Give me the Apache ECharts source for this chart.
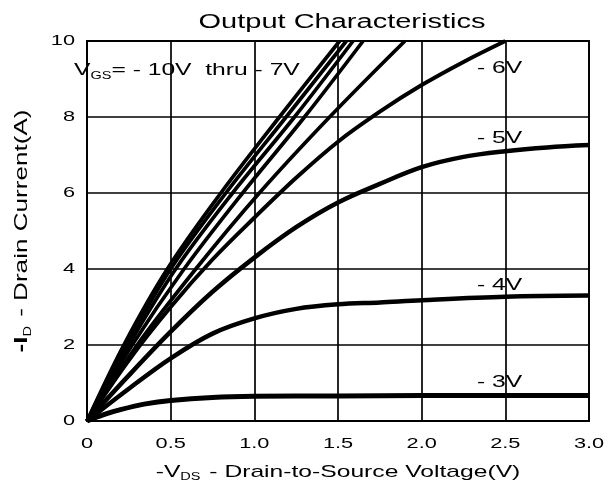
<!DOCTYPE html>
<html>
<head>
<meta charset="utf-8">
<script src="https://cdn.jsdelivr.net/npm/echarts@6/dist/echarts.min.js"></script>
<style>
html,body{margin:0;padding:0;background:#fff;}
#chart{width:608px;height:482px;}
</style>
</head>
<body>
<div id="chart"></div>
<script>
// Axis ticks
const xTicks = [0, 0.5, 1.0, 1.5, 2.0, 2.5, 3.0];
const yTicks = [0, 2, 4, 6, 8, 10];

// Curves: [ -VDS (V), -ID (A) ]
const vgsM10 = [[0,0],[0.22,2],[0.48,4],[0.80,6],[1.15,8],[1.51,10]];
const vgsM9  = [[0,0],[0.235,2],[0.50,4],[0.83,6],[1.19,8],[1.55,10]];
const vgsM8  = [[0,0],[0.25,2],[0.53,4],[0.87,6],[1.24,8],[1.59,10]];
const vgsM7  = [[0,0],[0.27,2],[0.58,4],[0.93,6],[1.30,8],[1.65,10]];
const vgsM7b = [[0,0],[0.30,2],[0.65,4],[1.03,6],[1.45,8],[1.90,10]];
const vgsM6  = [[0,0],[0.25,1.6],[0.5,3.0],[0.75,4.25],[1.0,5.35],[1.25,6.4],[1.5,7.35],[1.75,8.14],[2.0,8.84],[2.25,9.45],[2.5,10]];
const vgsM5  = [[0,0],[0.25,1.2],[0.5,2.35],[0.75,3.4],[1.0,4.3],[1.25,5.1],[1.5,5.75],[1.75,6.24],[2.0,6.68],[2.25,6.95],[2.5,7.1],[2.75,7.2],[3.0,7.26]];
const vgsM4  = [[0,0],[0.25,0.85],[0.5,1.65],[0.75,2.3],[1.0,2.7],[1.25,2.95],[1.5,3.07],[1.75,3.12],[2.0,3.18],[2.5,3.27],[3.0,3.3]];
const vgsM3  = [[0,0],[0.1,0.17],[0.2,0.3],[0.35,0.45],[0.5,0.54],[0.75,0.62],[1.0,0.65],[1.5,0.66],[2.0,0.67],[3.0,0.67]];

const curves = [
  {name:'-10V', data:vgsM10, w:3.7},
  {name:'-9V',  data:vgsM9,  w:3.7},
  {name:'-8V',  data:vgsM8,  w:3.7},
  {name:'-7V',  data:vgsM7,  w:3.7},
  {name:'-7V b',data:vgsM7b, w:3.7},
  {name:'-6V',  data:vgsM6,  w:4},
  {name:'-5V',  data:vgsM5,  w:4.5},
  {name:'-4V',  data:vgsM4,  w:4.5},
  {name:'-3V',  data:vgsM3,  w:5}
];

// The reference lettering is horizontally stretched; widen glyphs on the canvas.
(function(){
  const SX = 1.45;
  const proto = CanvasRenderingContext2D.prototype;
  const origFill = proto.fillText, origStroke = proto.strokeText, origMeasure = proto.measureText;
  proto.fillText = function(t, x, y){
    this.save(); this.translate(x, y); this.scale(SX, 1);
    origFill.call(this, t, 0, 0); this.restore();
  };
  proto.strokeText = function(t, x, y){
    this.save(); this.translate(x, y); this.scale(SX, 1);
    origStroke.call(this, t, 0, 0); this.restore();
  };
  proto.measureText = function(t){
    const m = origMeasure.call(this, t);
    return {
      width: m.width * SX,
      actualBoundingBoxLeft: m.actualBoundingBoxLeft * SX,
      actualBoundingBoxRight: m.actualBoundingBoxRight * SX,
      actualBoundingBoxAscent: m.actualBoundingBoxAscent,
      actualBoundingBoxDescent: m.actualBoundingBoxDescent,
      fontBoundingBoxAscent: m.fontBoundingBoxAscent,
      fontBoundingBoxDescent: m.fontBoundingBoxDescent
    };
  };
})();

const FONT = '"Liberation Sans", Arial, sans-serif';
const chart = echarts.init(document.getElementById('chart'));

const option = {
  animation:false,
  backgroundColor:'#fff',
  title:{
    text:'Output Characteristics',
    left:337, top:3, textAlign:'center',
    textStyle:{fontFamily:FONT, fontSize:20, fontWeight:'normal', color:'#000'}
  },
  grid:{left:87, right:19, top:41, bottom:61, show:true, borderColor:'#000', borderWidth:1.8,
    containLabel:false, outerBoundsMode:'none'},
  xAxis:{
    type:'value', min:xTicks[0], max:xTicks[xTicks.length-1], interval:0.5,
    axisLine:{show:true, lineStyle:{color:'#000', width:1.8}},
    axisTick:{show:false},
    splitLine:{show:true, lineStyle:{color:'#000', width:1.7}},
    axisLabel:{margin:12, color:'#000', fontFamily:FONT, fontSize:15,
      formatter:v => v === 0 ? '0' : v.toFixed(1)},
    name:'{n|-V}{s|DS}{n| - Drain-to-Source Voltage(V)}',
    nameLocation:'middle', nameGap:31,
    nameTextStyle:{rich:{
      n:{fontFamily:FONT, fontSize:17, color:'#000', verticalAlign:'bottom', lineHeight:20},
      s:{fontFamily:FONT, fontSize:10, color:'#000', verticalAlign:'bottom', lineHeight:20, padding:[0,2,0,0]}
    }}
  },
  yAxis:{
    type:'value', min:yTicks[0], max:yTicks[yTicks.length-1], interval:2,
    axisLine:{show:true, lineStyle:{color:'#000', width:1.8}},
    axisTick:{show:false},
    splitLine:{show:true, lineStyle:{color:'#000', width:1.7}},
    axisLabel:{margin:12, color:'#000', fontFamily:FONT, fontSize:15},
    name:'{b|-I}{s|D}{n| - Drain Current(A)}',
    nameLocation:'middle', nameGap:52, nameRotate:90,
    nameTextStyle:{rich:{
      b:{fontFamily:FONT, fontSize:18, fontWeight:'bold', color:'#000', verticalAlign:'bottom', lineHeight:20},
      n:{fontFamily:FONT, fontSize:18, color:'#000', verticalAlign:'bottom', lineHeight:20},
      s:{fontFamily:FONT, fontSize:10, color:'#000', verticalAlign:'bottom', lineHeight:20, padding:[0,2,0,0]}
    }}
  },
  series: curves.map(c => ({
    name:c.name, type:'line', data:c.data, smooth:0.35, showSymbol:false, symbol:'none',
    lineStyle:{color:'#000', width:c.w}, clip:true, z:3
  })),
  graphic:[
    {type:'text', z:10, style:{x:74, y:73, verticalAlign:'middle',
      text:'{v|V}{s|GS}{v|= - 10V  thru - 7V}',
      rich:{
        v:{fontFamily:FONT, fontSize:17, fill:'#000', verticalAlign:'bottom', lineHeight:20},
        s:{fontFamily:FONT, fontSize:10, fill:'#000', verticalAlign:'bottom', lineHeight:20}
      }}},
    {type:'text', z:10, style:{x:477, y:68, verticalAlign:'middle', text:'- 6V', font:'17px '+FONT, fill:'#000'}},
    {type:'text', z:10, style:{x:477, y:138, verticalAlign:'middle', text:'- 5V', font:'17px '+FONT, fill:'#000'}},
    {type:'text', z:10, style:{x:477, y:285, verticalAlign:'middle', text:'- 4V', font:'17px '+FONT, fill:'#000'}},
    {type:'text', z:10, style:{x:477, y:382, verticalAlign:'middle', text:'- 3V', font:'17px '+FONT, fill:'#000'}}
  ]
};
chart.setOption(option);
</script>
</body>
</html>
